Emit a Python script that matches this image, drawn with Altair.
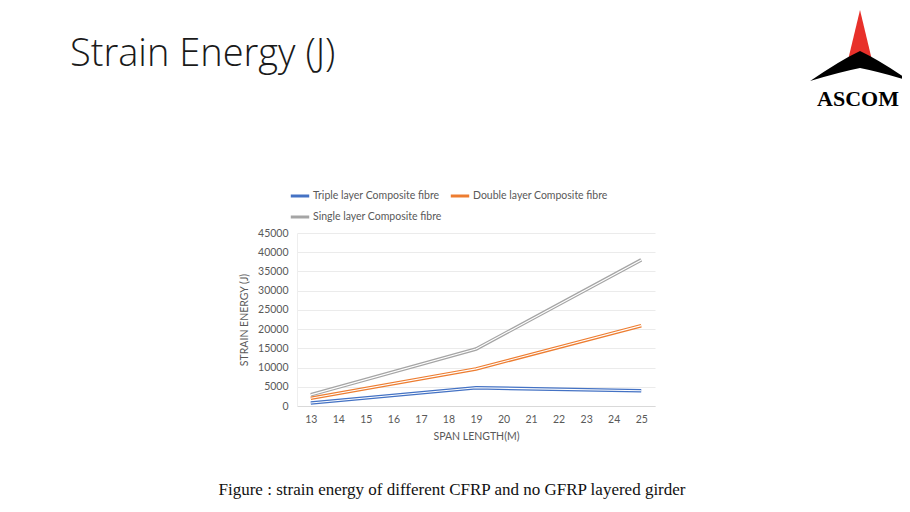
import altair as alt
import pandas as pd

span = [13, 19, 25]
triple = [800, 4750, 3950]
double = [2000, 9650, 20900]
single = [2900, 14800, 38000]
series_names = ["Triple layer Composite fibre", "Double layer Composite fibre", "Single layer Composite fibre"]
series_colors = ["#4472C4", "#ED7D31", "#A5A5A5"]
# legend fills column-first: order chosen so the rows read Triple | Double, then Single
legend_order = [series_names[0], series_names[2], series_names[1]]
legend_colors = [series_colors[0], series_colors[2], series_colors[1]]
x_ticks = list(range(13, 26))
y_ticks = list(range(0, 45001, 5000))

title_text = "Strain Energy (J)"
caption_text = "Figure : strain energy of different CFRP and no GFRP layered girder"
logo_text = "ASCOM"

rows = []
for name, vals in zip(series_names, [triple, double, single]):
    for s, v in zip(span, vals):
        rows.append({"span": s, "energy": v, "series": name})
df = pd.DataFrame(rows)

FONT = "Lato"
GRAY = "#595959"

x_enc = alt.X("span:Q", scale=alt.Scale(domain=[12.5, 25.5], nice=False, zero=False),
              axis=alt.Axis(values=x_ticks, format="d", labelOverlap=False, title="SPAN LENGTH(M)",
                            grid=False, ticks=False,
                            domainColor="#D9D9D9", labelColor=GRAY, titleColor=GRAY,
                            labelFont=FONT, titleFont=FONT, labelFontSize=10.5, titleFontSize=10.5,
                            titleFontWeight="normal", labelPadding=8, titlePadding=7))
y_enc = alt.Y("energy:Q", scale=alt.Scale(domain=[0, 45000], nice=False),
              axis=alt.Axis(values=y_ticks, format="d", labelOverlap=False, title="STRAIN ENERGY (J)",
                            grid=True, gridColor="#EBEBEB",
                            ticks=False, domainColor="#EEEEEE", labelColor=GRAY, titleColor=GRAY,
                            labelFont=FONT, titleFont=FONT, labelFontSize=10.5, titleFontSize=10.5,
                            titleFontWeight="normal", labelPadding=9, titlePadding=8))

color_scale = alt.Scale(domain=legend_order, range=legend_colors)

outer = alt.Chart(df).mark_line(strokeWidth=3.6).encode(
    x=x_enc, y=y_enc,
    color=alt.Color("series:N", scale=color_scale, sort=legend_order,
                    legend=alt.Legend(title=None, orient="none", legendX=-8, legendY=-48, columns=2,
                                      symbolType="stroke", symbolStrokeWidth=3, symbolSize=340,
                                      labelFont=FONT, labelFontSize=10.5, labelColor=GRAY,
                                      labelOffset=2, columnPadding=2, rowPadding=4,
                                      labelLimit=300)),
)
inner = alt.Chart(df).mark_line(strokeWidth=1.1, color="white").encode(
    x=x_enc, y=y_enc, detail="series:N"
)

title = alt.Chart(pd.DataFrame({"t": [title_text]})).mark_text(
    font="Open Sans", fontWeight=300, fontSize=38, align="left", baseline="alphabetic", color="#1a1a1a"
).encode(x=alt.value(-227), y=alt.value(-167), text="t:N")

caption = alt.Chart(pd.DataFrame({"t": [caption_text]})).mark_text(
    font="Liberation Serif", fontSize=17, align="center", baseline="alphabetic", color="#111111"
).encode(x=alt.value(155), y=alt.value(262), text="t:N")

tri_path = "M0,-1 L0.46,0.92 L-0.46,0.92 Z"
arch_path = "M-0.96,0.29 Q-0.4,-0.1 0,-0.29 Q0.4,-0.1 0.96,0.29 Q0.4,0.12 0,0.04 Q-0.4,0.12 -0.96,0.29 Z"
logo_df = pd.DataFrame({"t": [logo_text]})
tri = alt.Chart(logo_df).mark_point(shape=tri_path, size=2704, filled=True, color="#E8302A", opacity=1, strokeWidth=0).encode(
    x=alt.value(563), y=alt.value(-197))
arch = alt.Chart(logo_df).mark_point(shape=arch_path, size=10800, filled=True, color="#000000", opacity=1, strokeWidth=0).encode(
    x=alt.value(563), y=alt.value(-167))
logo = alt.Chart(logo_df).mark_text(
    font="Liberation Serif", fontWeight="bold", fontSize=22, align="center", baseline="alphabetic", color="#000000"
).encode(x=alt.value(561), y=alt.value(-127), text="t:N")

chart = alt.layer(outer, inner, title, caption, tri, arch, logo).properties(
    width=358, height=173,
    autosize=alt.AutoSizeParams(type="none"),
    padding={"left": 289, "top": 225, "right": 247, "bottom": 98},
    background="white",
).configure_view(stroke=None)

chart.save("out.html", embed_options={"renderer": "svg", "actions": False})
